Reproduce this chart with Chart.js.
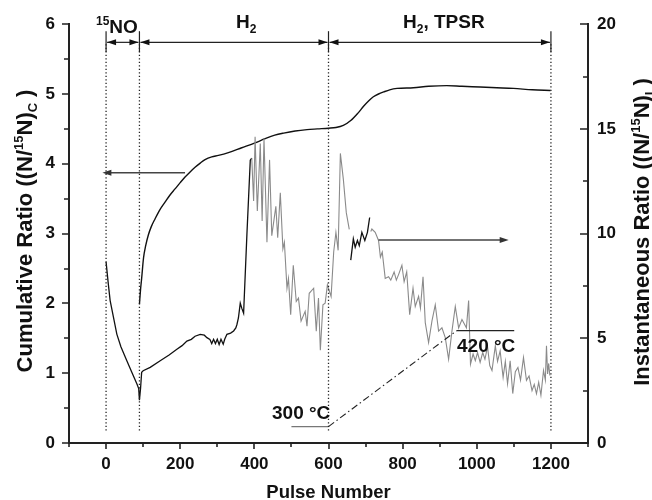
<!DOCTYPE html>
<html>
<head>
<meta charset="utf-8">
<script src="https://cdn.jsdelivr.net/npm/chart.js@4.4.0/dist/chart.umd.min.js"></script>
<style>
  html, body { margin: 0; padding: 0; background: #fff; }
  #wrap { width: 652px; height: 500px; }
</style>
</head>
<body>
<div id="wrap"><canvas id="chart" width="652" height="500"></canvas></div>
<script>
// cumulative ratio (left axis)
const cumPulse = [90, 93, 96, 101, 107, 114, 122, 132, 145, 159, 172, 186, 200, 213, 226, 240, 254, 267, 285, 303, 330, 366, 402, 429, 455, 479, 510, 542, 570, 600, 620, 640, 660, 680, 694, 708, 721, 735, 749, 765, 785, 829, 870, 919, 960, 1009, 1054, 1099, 1150, 1199];
const cumRatio = [1.99, 2.2, 2.36, 2.65, 2.83, 2.98, 3.1, 3.21, 3.34, 3.45, 3.55, 3.64, 3.73, 3.81, 3.88, 3.95, 4.01, 4.06, 4.1, 4.12, 4.16, 4.23, 4.3, 4.36, 4.41, 4.44, 4.47, 4.49, 4.5, 4.51, 4.52, 4.55, 4.62, 4.73, 4.82, 4.9, 4.96, 5.0, 5.03, 5.06, 5.08, 5.09, 5.11, 5.12, 5.11, 5.1, 5.09, 5.08, 5.06, 5.05];

// instantaneous ratio (right axis), black and grey pieces
const instPulseA = [0, 6, 11, 20, 29, 40, 56, 70, 83, 88, 90, 93, 96, 100, 119, 146, 170, 191, 205, 218, 230, 240, 254, 265, 272, 280, 285, 290, 295, 300, 305, 310, 316, 320, 326, 336, 344, 350, 353, 357, 362, 366, 371, 380, 389, 393];
const instA = [8.65, 7.6, 6.8, 6.0, 5.2, 4.6, 3.93, 3.35, 2.83, 2.6, 2.04, 2.6, 3.38, 3.45, 3.61, 3.93, 4.2, 4.48, 4.65, 4.87, 4.95, 5.1, 5.19, 5.15, 5.03, 4.95, 4.75, 4.95, 4.75, 4.95, 4.7, 4.95, 4.72, 4.95, 5.19, 5.25, 5.35, 5.5, 5.66, 5.97, 6.68, 6.44, 6.2, 10.0, 13.5, 13.6];

const instPulseB = [393, 398, 402, 408, 416, 421, 426, 434, 441, 447, 458, 463, 470, 477, 481, 488, 492, 498, 505, 513, 519, 526, 537, 542, 548, 560, 567, 573, 578, 585, 591, 597, 607, 614, 620, 626, 632, 640, 648, 656];
const instB = [13.6, 11.56, 14.62, 11.08, 14.3, 10.6, 14.54, 9.59, 13.52, 9.9, 11.3, 9.8, 11.95, 9.27, 9.59, 7.39, 7.86, 6.13, 8.49, 6.76, 6.92, 5.82, 6.29, 5.58, 7.15, 7.39, 5.34, 6.92, 4.43, 6.6, 6.68, 7.55, 7.0, 9.12, 10.06, 9.2, 13.83, 12.6, 11.0, 10.2];

const instPulseC = [660, 667, 672, 678, 683, 690, 698, 705, 711];
const instC = [8.73, 9.75, 9.35, 9.67, 9.43, 10.06, 9.67, 10.06, 10.77];

const instPulseD = [714, 717, 726, 735, 740, 745, 753, 762, 768, 777, 783, 790, 798, 804, 811, 819, 828, 834, 843, 848, 855, 861, 870, 879, 888, 897, 906, 915, 924, 933, 942, 951, 960, 972, 978, 983, 990, 996, 1002, 1009, 1016, 1022, 1029, 1035, 1041, 1050, 1056, 1063, 1071, 1077, 1083, 1090, 1097, 1104, 1111, 1118, 1126, 1134, 1141, 1149, 1155, 1161, 1167, 1173, 1180, 1185, 1188, 1191, 1194, 1197];
const instD = [10.1, 10.22, 10.06, 9.67, 8.88, 9.12, 7.86, 7.94, 7.78, 8.17, 7.78, 8.09, 8.49, 7.7, 8.17, 6.13, 7.39, 6.52, 7.0, 6.44, 7.94, 5.75, 4.8, 5.82, 6.6, 5.34, 5.5, 5.03, 4.0, 5.34, 6.52, 5.5, 5.9, 5.5, 6.8, 3.77, 4.25, 3.93, 4.32, 3.85, 4.32, 4.0, 4.6, 3.7, 3.46, 4.64, 3.9, 4.4, 3.14, 3.9, 2.83, 3.93, 2.36, 3.4, 3.61, 3.0, 4.08, 2.99, 3.2, 2.5, 2.8, 2.36, 2.9, 2.28, 3.46, 3.0, 4.64, 3.3, 3.8, 3.22];

// temperature ramp marker (drawn on left axis)
const tempPulse = [500, 600, 946, 1101];
const tempLevel = [0.235, 0.235, 1.61, 1.61];

// phase boundaries
const phasePulse = [0, 90, 600, 1200];

// ticks
const xTicks = [0, 200, 400, 600, 800, 1000, 1200];
const yTicks = [0, 1, 2, 3, 4, 5, 6];
const y2Ticks = [0, 5, 10, 15, 20];

const FONT = "'Liberation Sans', Arial, Helvetica, sans-serif";

function pts(xs, ys) {
    return xs.map((x, i) => ({ x: x, y: ys[i] }));
}

const datasets = [];

phasePulse.forEach(p => {
    datasets.push({
        data: [{ x: p, y: 0.18 }, { x: p, y: 5.72 }],
        yAxisID: 'y',
        borderColor: '#222',
        borderWidth: 1.3,
        borderDash: [1.3, 2.2],
        pointRadius: 0
    });
});

datasets.push({
    data: pts(tempPulse, tempLevel),
    yAxisID: 'y',
    borderColor: '#222',
    borderWidth: 1.1,
    pointRadius: 0,
    segment: {
        borderDash: ctx => ctx.p0DataIndex === 1 ? [7, 3, 1.5, 3] : undefined,
        borderColor: ctx => ctx.p0DataIndex === 0 ? '#777' : '#222'
    }
});

datasets.push({
    data: pts(instPulseB, instB),
    yAxisID: 'y2',
    borderColor: '#8a8a8a',
    borderWidth: 1.1,
    pointRadius: 0
});
datasets.push({
    data: pts(instPulseD, instD),
    yAxisID: 'y2',
    borderColor: '#8a8a8a',
    borderWidth: 1.1,
    pointRadius: 0
});
datasets.push({
    data: pts(instPulseA, instA),
    yAxisID: 'y2',
    borderColor: '#111',
    borderWidth: 1.3,
    pointRadius: 0
});
datasets.push({
    data: pts(instPulseC, instC),
    yAxisID: 'y2',
    borderColor: '#111',
    borderWidth: 1.3,
    pointRadius: 0
});
datasets.push({
    data: pts(cumPulse, cumRatio),
    yAxisID: 'y',
    borderColor: '#111',
    borderWidth: 1.4,
    pointRadius: 0,
    cubicInterpolationMode: 'monotone'
});

// draws text made of pieces with super/subscripts
function richText(ctx, parts, x, y) {
    let cx = x;
    parts.forEach(p => {
        ctx.font = 'bold ' + p.size + 'px ' + FONT;
        ctx.fillText(p.t, cx, y + (p.dy || 0));
        cx += ctx.measureText(p.t).width + (p.gap || 0);
    });
    return cx - x;
}

function richWidth(ctx, parts) {
    let w = 0;
    parts.forEach(p => {
        ctx.font = 'bold ' + p.size + 'px ' + FONT;
        w += ctx.measureText(p.t).width + (p.gap || 0);
    });
    return w;
}

function arrowHead(ctx, x, y, dir) {
    ctx.beginPath();
    ctx.moveTo(x, y);
    ctx.lineTo(x - dir * 9, y - 3);
    ctx.lineTo(x - dir * 9, y + 3);
    ctx.closePath();
    ctx.fill();
}

const tickMarks = {
    id: 'tickMarks',
    afterDraw(chart) {
        const { ctx, chartArea: a, scales: { x, y, y2 } } = chart;
        ctx.save();
        ctx.strokeStyle = '#222';
        ctx.lineWidth = 1.6;
        ctx.beginPath();
        for (let v = -100; v <= 1300; v += 100) {
            const px = Math.round(x.getPixelForValue(v));
            ctx.moveTo(px, a.bottom);
            ctx.lineTo(px, a.bottom + (v % 200 === 0 ? 6 : 4));
        }
        for (let v = 0; v <= 6; v += 0.5) {
            const py = Math.round(y.getPixelForValue(v));
            ctx.moveTo(a.left, py);
            ctx.lineTo(a.left - (v % 1 === 0 ? 7 : 5), py);
        }
        for (let v = 0; v <= 20; v += 2.5) {
            const py = Math.round(y2.getPixelForValue(v));
            ctx.moveTo(a.right, py);
            ctx.lineTo(a.right - (v % 5 === 0 ? 8 : 5), py);
        }
        ctx.stroke();
        ctx.restore();
    }
};

const notes = {
    id: 'notes',
    afterDatasetsDraw(chart) {
        const { ctx, scales: { x, y, y2 } } = chart;
        ctx.save();
        ctx.fillStyle = '#111';
        ctx.strokeStyle = '#222';
        ctx.textBaseline = 'alphabetic';

        // phase arrows
        const ay = y.getPixelForValue(5.74);
        ctx.lineWidth = 1.2;
        for (let i = 0; i < phasePulse.length; i++) {
            const px = x.getPixelForValue(phasePulse[i]);
            ctx.beginPath();
            ctx.moveTo(px, y.getPixelForValue(5.9));
            ctx.lineTo(px, y.getPixelForValue(5.6));
            ctx.stroke();
            if (i < phasePulse.length - 1) {
                const p0 = px + 1;
                const p1 = x.getPixelForValue(phasePulse[i + 1]) - 1;
                ctx.beginPath();
                ctx.moveTo(p0, ay);
                ctx.lineTo(p1, ay);
                ctx.stroke();
                arrowHead(ctx, p0, ay, -1);
                arrowHead(ctx, p1, ay, 1);
            }
        }

        // phase labels
        richText(ctx, [{ t: '15', size: 12, dy: -8 }, { t: 'NO', size: 19 }], 96, 33);
        richText(ctx, [{ t: 'H', size: 19 }, { t: '2', size: 12, dy: 5 }], 236, 28);
        richText(ctx, [{ t: 'H', size: 19 }, { t: '2', size: 12, dy: 5 }, { t: ', TPSR', size: 19 }], 403, 28);

        // left pointing arrow (cumulative)
        ctx.strokeStyle = '#444';
        ctx.fillStyle = '#333';
        ctx.lineWidth = 1.5;
        const ly = y.getPixelForValue(3.87);
        const l0 = x.getPixelForValue(213), l1 = x.getPixelForValue(-10);
        ctx.beginPath();
        ctx.moveTo(l0, ly);
        ctx.lineTo(l1 + 4, ly);
        ctx.stroke();
        arrowHead(ctx, l1, ly, -1);

        // right pointing arrow (instantaneous)
        const ry = y2.getPixelForValue(9.7);
        const r0 = x.getPixelForValue(735), r1 = x.getPixelForValue(1086);
        ctx.beginPath();
        ctx.moveTo(r0, ry);
        ctx.lineTo(r1 - 4, ry);
        ctx.stroke();
        arrowHead(ctx, r1, ry, 1);

        // temperature labels
        ctx.fillStyle = '#111';
        ctx.font = 'bold 19px ' + FONT;
        ctx.fillText('300 °C', 272, 419);
        ctx.fillText('420 °C', 457, 352);
        ctx.restore();
    },
    afterDraw(chart) {
        const { ctx, chartArea: a } = chart;
        ctx.save();
        ctx.fillStyle = '#111';
        ctx.textBaseline = 'alphabetic';

        ctx.font = 'bold 18.5px ' + FONT;
        ctx.textAlign = 'center';
        ctx.fillText('Pulse Number', (a.left + a.right) / 2, 498);
        ctx.textAlign = 'left';

        const left = [
            { t: 'Cumulative Ratio ((N/', size: 22 },
            { t: '15', size: 13, dy: -9 },
            { t: 'N)', size: 22 },
            { t: 'C', size: 13, dy: 5, gap: 6 },
            { t: ')', size: 22 }
        ];
        const right = [
            { t: 'Instantaneous Ratio ((N/', size: 22 },
            { t: '15', size: 13, dy: -9 },
            { t: 'N)', size: 22 },
            { t: 'I', size: 13, dy: 5, gap: 6 },
            { t: ')', size: 22 }
        ];

        ctx.save();
        ctx.translate(32, 231);
        ctx.rotate(-Math.PI / 2);
        richText(ctx, left, -richWidth(ctx, left) / 2, 0);
        ctx.restore();

        ctx.save();
        ctx.translate(649, 232);
        ctx.rotate(-Math.PI / 2);
        richText(ctx, right, -richWidth(ctx, right) / 2, 0);
        ctx.restore();

        ctx.restore();
    }
};

const tickFont = { family: FONT, size: 17, weight: 'bold' };

new Chart(document.getElementById('chart'), {
    type: 'line',
    data: { datasets: datasets },
    options: {
        responsive: false,
        animation: false,
        devicePixelRatio: 1,
        layout: { padding: { top: 19, left: 0, right: 0, bottom: 0 } },
        plugins: {
            legend: { display: false },
            tooltip: { enabled: false }
        },
        elements: { line: { tension: 0 } },
        scales: {
            x: {
                type: 'linear',
                position: 'bottom',
                min: -100,
                max: 1300,
                grid: { display: false, drawTicks: false },
                border: { display: true, color: '#222', width: 2 },
                ticks: { font: tickFont, color: '#111', padding: 11, maxRotation: 0, callback: v => String(v) },
                afterBuildTicks: s => { s.ticks = xTicks.map(v => ({ value: v })); },
                afterFit: s => { s.height = 57; }
            },
            y: {
                type: 'linear',
                position: 'left',
                min: 0,
                max: 6,
                grid: { display: false, drawTicks: false },
                border: { display: true, color: '#222', width: 2 },
                ticks: { font: tickFont, color: '#111', padding: 14, callback: v => String(v) },
                afterBuildTicks: s => { s.ticks = yTicks.map(v => ({ value: v })); },
                afterFit: s => { s.width = 69; }
            },
            y2: {
                type: 'linear',
                position: 'right',
                min: 0,
                max: 20,
                grid: { display: false, drawTicks: false },
                border: { display: true, color: '#222', width: 2 },
                ticks: { font: tickFont, color: '#111', padding: 9, callback: v => String(v) },
                afterBuildTicks: s => { s.ticks = y2Ticks.map(v => ({ value: v })); },
                afterFit: s => { s.width = 64; }
            }
        }
    },
    plugins: [tickMarks, notes]
});
</script>
</body>
</html>
